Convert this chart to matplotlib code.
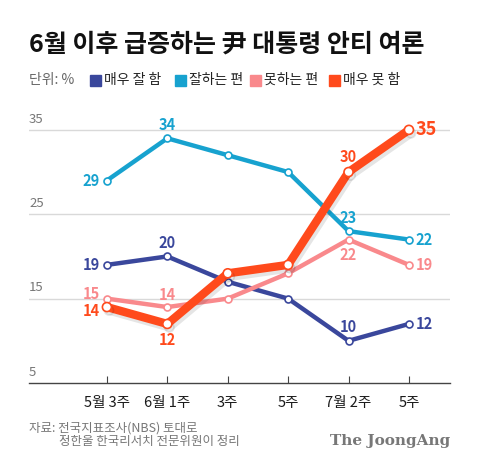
import matplotlib.pyplot as plt
import matplotlib.patheffects as pe

plt.rcParams['font.family'] = ['Noto Sans CJK KR', 'DejaVu Sans']

weeks = ['5월 3주', '6월 1주', '3주', '5주', '7월 2주', '5주']
very_good = [19, 20, 17, 15, 10, 12]
good = [29, 34, 32, 30, 23, 22]
bad = [15, 14, 15, 18, 22, 19]
very_bad = [14, 12, 18, 19, 30, 35]

series_names = ['매우 잘 함', '잘하는 편', '못하는 편', '매우 못 함']
colors = ['#3a479c', '#17a2cf', '#f9898c', '#ff4a1c']
yticks = [5, 15, 25, 35]

fig = plt.figure(figsize=(4.8, 4.71), dpi=100)
ax = fig.add_axes([29 / 480, 1 - 383 / 471, 421 / 480, (383 - 113) / 471])
x = list(range(len(weeks)))

ax.set_xlim(-1.29, 5.68)
ax.set_ylim(5, 37)

for y in yticks[1:]:
    ax.axhline(y, color='#d9d9d9', lw=1, zorder=0)
for y in yticks:
    ax.text(0.0, y + 0.5, str(y), transform=ax.get_yaxis_transform(),
            color='#777777', fontsize=9.5, va='bottom', ha='left')

data = [very_good, good, bad, very_bad]
widths = [3.2, 3.2, 3.2, 6]
for vals, c, w in zip(data, colors, widths):
    effects = None
    if w > 4:
        effects = [pe.SimpleLineShadow(offset=(1.5, -2.5), shadow_color='#000000', alpha=0.1), pe.Normal()]
    ax.plot(x, vals, color=c, lw=w, solid_joinstyle='round', solid_capstyle='round',
            marker='o', markersize=5 if w < 4 else 6.5, markerfacecolor='white',
            markeredgecolor=c, markeredgewidth=1.2, path_effects=effects,
            zorder=3 if w < 4 else 4)


def lab(vals, i, c, dx, dy, ha, va, size=10.5):
    ax.annotate(str(vals[i]), (x[i], vals[i]), xytext=(dx, dy), textcoords='offset points',
                ha=ha, va=va, color=c, fontsize=size, fontweight='bold', zorder=6)


lab(very_good, 0, colors[0], -5, 0, 'right', 'center')
lab(very_good, 1, colors[0], 0, 4, 'center', 'bottom')
lab(very_good, 4, colors[0], 0, 4, 'center', 'bottom')
lab(very_good, 5, colors[0], 5, 0, 'left', 'center')
lab(good, 0, colors[1], -5, 0, 'right', 'center')
lab(good, 1, colors[1], 0, 4, 'center', 'bottom')
lab(good, 4, colors[1], 0, 4, 'center', 'bottom')
lab(good, 5, colors[1], 5, 0, 'left', 'center')
lab(bad, 0, colors[2], -5, 3, 'right', 'center')
lab(bad, 1, colors[2], 0, 3, 'center', 'bottom')
lab(bad, 4, colors[2], 0, -5, 'center', 'top')
lab(bad, 5, colors[2], 5, 0, 'left', 'center')
lab(very_bad, 0, colors[3], -5, -3, 'right', 'center')
lab(very_bad, 1, colors[3], 0, -6, 'center', 'top')
lab(very_bad, 4, colors[3], 0, 5, 'center', 'bottom')
lab(very_bad, 5, colors[3], 5, 0, 'left', 'center', size=13)

for s in ['top', 'right', 'left']:
    ax.spines[s].set_visible(False)
ax.spines['bottom'].set_color('#444444')
ax.spines['bottom'].set_linewidth(1)
ax.set_yticks([])
ax.set_xticks(x)
ax.set_xticklabels(weeks, fontsize=10.5, color='#1a1a1a', fontweight='medium')
ax.tick_params(axis='x', direction='in', length=5, color='#444444', pad=9)

fig.text(29 / 480, 1 - 45 / 471, '6월 이후 급증하는 尹 대통령 안티 여론', fontsize=18,
         fontweight='heavy', va='center', ha='left', color='#111111')

fig.text(29 / 480, 1 - 80 / 471, '단위: %', fontsize=10, color='#666666', va='center')
lx = [90, 175, 250, 329]
for px, name, c in zip(lx, series_names, colors):
    fig.patches.append(plt.Rectangle((px / 480, 1 - 86 / 471), 11 / 480, 11 / 471,
                                     transform=fig.transFigure, color=c))
    fig.text((px + 14) / 480, 1 - 80 / 471, name, fontsize=10, color='#222222', va='center')

fig.text(29 / 480, 1 - 428 / 471, '자료: 전국지표조사(NBS) 토대로', fontsize=9,
         color='#777777', va='center')
fig.text(59 / 480, 1 - 442 / 471, '정한울 한국리서치 전문위원이 정리', fontsize=9,
         color='#777777', va='center')
fig.text(450 / 480, 1 - 441 / 471, 'The JoongAng', fontsize=11, fontweight='bold',
         family='DejaVu Serif', color='#777777', va='center', ha='right')

fig.savefig('out.png', dpi=100)
